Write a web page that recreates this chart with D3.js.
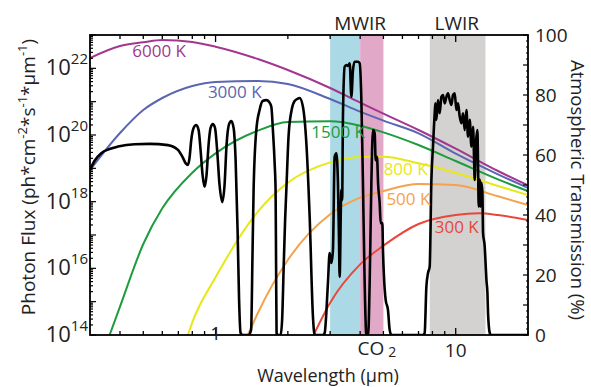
<!DOCTYPE html>
<html>
<head>
<meta charset="utf-8">
<script src="https://cdn.jsdelivr.net/npm/d3@7"></script>
<style>
  body { margin: 0; background: #fff; }
  svg { display: block; }
  text { font-family: "Open Sans", sans-serif; fill: #222; }
</style>
</head>
<body>
<svg id="chart" width="591" height="387"></svg>
<script>
// ---- data ----
// blackbody curves: wavelength (um) and log10 of photon flux
var wave6000 = [0.3, 0.4, 0.5, 0.6, 0.8, 1, 1.5, 2, 3, 4, 5, 7, 10, 15, 20];
var flux6000 = [22.31, 22.67, 22.78, 22.85, 22.79, 22.65, 22.28, 21.95, 21.41, 20.97, 20.64, 20.15, 19.59, 18.92, 18.49];
var wave3000 = [0.3, 0.4, 0.5, 0.6, 0.8, 1, 1.5, 2, 3, 4, 5, 7, 10, 15, 20];
var flux3000 = [18.95, 20.06, 20.75, 21.11, 21.47, 21.59, 21.62, 21.53, 21.08, 20.7, 20.43, 20.05, 19.44, 18.82, 18.41];
var wave1500 = [0.362, 0.4, 0.5, 0.6, 0.8, 1, 1.5, 2, 3, 4, 5, 7, 10, 15, 20];
var flux1500 = [14.0, 14.85, 16.73, 17.8, 18.87, 19.45, 20.13, 20.39, 20.41, 20.28, 20.08, 19.7, 19.22, 18.67, 18.32];
var wave800 = [0.767, 0.8, 1, 1.5, 2, 3, 4, 5, 7, 10, 15, 20];
var flux800 = [14.0, 14.38, 15.73, 17.7, 18.57, 19.18, 19.34, 19.35, 19.15, 18.87, 18.47, 18.2];
var wave500 = [1.364, 1.5, 2, 3, 4, 5, 7, 10, 15, 20];
var flux500 = [14.0, 14.66, 16.25, 17.62, 18.12, 18.32, 18.53, 18.5, 18.16, 17.9];
var wave300 = [2.56, 3, 4, 5, 7, 10, 12.5, 15, 20];
var flux300 = [14.0, 14.97, 16.12, 16.68, 17.33, 17.6, 17.65, 17.6, 17.45];

var tempNames = ['6000 K', '3000 K', '1500 K', '800 K', '500 K', '300 K'];
var labelWave = [0.45, 0.929, 2.504, 5.01, 5.145, 8.175];
var labelFlux = [22.33, 21.11, 19.91, 18.8, 17.9, 17.06];

// atmospheric transmission (%)
var transWave = [0.300, 0.313, 0.334, 0.362, 0.392, 0.460, 0.531, 0.633, 0.697, 0.729, 0.750, 0.767, 0.779, 0.792,
  0.810, 0.831, 0.850, 0.866, 0.883, 0.900, 0.917, 0.935, 0.953, 0.974, 0.995, 1.015, 1.039, 1.066, 1.090,
  1.111, 1.138, 1.163, 1.189, 1.212, 1.235, 1.253, 1.271, 1.296, 1.373, 1.406, 1.426, 1.440, 1.478, 1.525,
  1.570, 1.627, 1.671, 1.707, 1.733, 1.762, 1.778, 1.787, 1.795, 1.813, 1.866, 1.893, 1.920, 1.948, 1.971,
  2.015, 2.074, 2.134, 2.203, 2.239, 2.311, 2.388, 2.465, 2.544, 2.586, 2.800, 2.846, 2.937, 2.985, 3.035,
  3.082, 3.132, 3.184, 3.233, 3.264, 3.286, 3.340, 3.366, 3.392, 3.448, 3.505, 3.559, 3.618, 3.677, 3.734,
  3.795, 3.917, 3.981, 4.047, 4.109, 4.177, 4.246, 4.320, 4.382, 4.454, 4.523, 4.598, 4.642, 4.700, 4.754,
  4.823, 4.870, 4.950, 4.979, 5.027, 5.109, 5.224, 5.309, 5.396, 7.300, 7.426, 7.548, 7.665, 7.792, 7.920,
  8.043, 8.175, 8.230, 8.310, 8.438, 8.577, 8.718, 8.853, 8.999, 9.147, 9.289, 9.441, 9.596, 9.744, 9.905,
  10.068, 10.223, 10.391, 10.562, 10.726, 10.902, 11.081, 11.252, 11.438, 11.626, 11.806, 11.920, 12.000,
  12.115, 12.315, 12.386, 12.469, 12.589, 12.711, 12.796, 12.920, 12.995, 13.208, 13.297, 13.425, 13.555,
  13.633, 13.857, 14.0, 20.0];
var transPct = [55.0, 58.0, 60.6, 62.0, 62.8, 63.6, 63.7, 63.3, 61.7, 59.3, 57.3, 56.7, 59.0, 65.0,
  69.0, 70.0, 68.3, 61.7, 53.3, 49.4, 53.3, 63.3, 69.0, 70.3, 69.0, 61.7, 50.0, 44.3, 50.0,
  63.3, 70.3, 71.3, 69.0, 58.3, 35.0, 11.7, 0.7, 0, 0, 1.7, 28.3, 48.3, 68.3, 75.0,
  78.0, 78.3, 77.7, 76.1, 68.3, 57.2, 48.3, 21.7, 0.7, 0, 0, 5.0, 21.7, 38.3, 48.3,
  66.7, 75.0, 78.0, 78.8, 79.0, 76.1, 64.0, 39.4, 6.1, 0, 0, 0.7, 17.3, 27.3, 24.0,
  28.3, 59.4, 60.6, 50.7, 32.8, 19.4, 48.3, 45.0, 72.8, 89.4, 90.0, 89.7, 90.6, 79.4, 88.3,
  91.1, 91.1, 90.6, 78.3, 50.7, 17.3, 0, 0, 17.3, 50.7, 68.3, 67.3, 58.3, 59.4, 50.0,
  44.0, 37.3, 37.3, 28.3, 19.4, 11.7, 8.3, 1.7, 0, 0, 0.7, 16.1, 20.6, 22.8, 51.7,
  62.8, 73.9, 77.2, 71.7, 78.3, 73.9, 79.4, 80.0, 77.2, 79.4, 80.6, 78.3, 76.7, 80.0, 80.6,
  75.0, 77.2, 72.8, 70.6, 73.9, 68.3, 75.0, 66.1, 71.7, 62.8, 69.4, 59.4, 51.7,
  62.8, 68.3, 57.2, 42.8, 51.7, 42.8, 50.7, 47.3, 34.0, 29.4, 25.0, 18.3, 14.0,
  7.3, 0.7, 0, 0];

// spectral bands (um)
var bandNames = ['MWIR', 'CO2', 'LWIR'];
var bandStart = [3.0, 4.0, 7.8];
var bandEnd = [4.0, 5.0, 13.3];

var fluxTickExp = [14, 16, 18, 20, 22];
var transTicks = [0, 20, 40, 60, 80, 100];

// ---- layout ----
var plotLeft = 90, plotRight = 528, plotTop = 35, plotBottom = 335;
var tempColors = ['#a2378f', '#5a66b2', '#1c9c3d', '#e8e817', '#f5a24a', '#e8473a'];
var bandColors = ['#acd9e6', '#e2a8c8', '#d3d2d1'];

var svg = d3.select('#chart');

var x = d3.scaleLog().domain([0.3, 20]).range([plotLeft, plotRight]);
var yFlux = d3.scaleLog().domain([1e14, 1e23]).range([plotBottom, plotTop]);
var yTrans = d3.scaleLinear().domain([0, 100]).range([plotBottom, plotTop]);

svg.append('clipPath').attr('id', 'plotClip')
  .append('rect')
  .attr('x', plotLeft).attr('y', plotTop)
  .attr('width', plotRight - plotLeft).attr('height', plotBottom - plotTop);

var plot = svg.append('g').attr('clip-path', 'url(#plotClip)');

// Bands
plot.selectAll('rect.band')
  .data(bandStart)
  .enter().append('rect')
  .attr('class', 'band')
  .attr('x', function (d) { return x(d); })
  .attr('y', plotTop)
  .attr('width', function (d, i) { return x(bandEnd[i]) - x(d); })
  .attr('height', plotBottom - plotTop)
  .attr('fill', function (d, i) { return bandColors[i]; });

// Blackbody curves
var curves = [
  [wave6000, flux6000], [wave3000, flux3000], [wave1500, flux1500],
  [wave800, flux800], [wave500, flux500], [wave300, flux300]
];
var fluxLine = d3.line()
  .x(function (d) { return x(d[0]); })
  .y(function (d) { return yFlux(Math.pow(10, d[1])); })
  .curve(d3.curveMonotoneX);

curves.forEach(function (c, i) {
  var pts = c[0].map(function (w, j) { return [w, c[1][j]]; });
  plot.append('path')
    .datum(pts)
    .attr('d', fluxLine)
    .attr('fill', 'none')
    .attr('stroke', tempColors[i])
    .attr('stroke-width', 2);
});

// Transmission curve
var transLine = d3.line()
  .x(function (d) { return x(d[0]); })
  .y(function (d) { return yTrans(d[1]); })
  .curve(d3.curveMonotoneX);
plot.append('path')
  .datum(transWave.map(function (w, j) { return [w, transPct[j]]; }))
  .attr('d', transLine)
  .attr('fill', 'none')
  .attr('stroke', '#000')
  .attr('stroke-width', 2.6)
  .attr('stroke-linejoin', 'round');

// Curve labels
svg.selectAll('text.temp')
  .data(tempNames)
  .enter().append('text')
  .attr('class', 'temp')
  .attr('x', function (d, i) { return x(labelWave[i]); })
  .attr('y', function (d, i) { return yFlux(Math.pow(10, labelFlux[i])); })
  .style('font-size', '17px')
  .style('fill', function (d, i) { return tempColors[i]; })
  .text(function (d) { return d; });

// ---- axes / frame ----
var axes = svg.append('g').attr('stroke', '#000');

// x ticks (bottom and top, pointing inward)
var xMinor = [0.4, 0.5, 0.6, 0.7, 0.8, 0.9, 2, 3, 4, 5, 6, 7, 8, 9, 20];
var xMajor = [1, 10];
axes.selectAll('g.xt')
  .data(xMinor.concat(xMajor))
  .enter().append('g')
  .attr('class', 'xt')
  .each(function (d) {
    var len = xMajor.indexOf(d) >= 0 ? 7 : 4;
    var g = d3.select(this);
    g.append('line').attr('x1', x(d)).attr('x2', x(d)).attr('y1', plotBottom).attr('y2', plotBottom - len).attr('stroke-width', 1.3);
    g.append('line').attr('x1', x(d)).attr('x2', x(d)).attr('y1', plotTop).attr('y2', plotTop + len).attr('stroke-width', 1.3);
  });

// left log ticks
var yTickVals = [];
d3.range(14, 23).forEach(function (e) {
  d3.range(1, 10).forEach(function (m) { yTickVals.push([m * Math.pow(10, e), m === 1]); });
});
yTickVals.push([1e23, true]);
axes.selectAll('line.yl')
  .data(yTickVals)
  .enter().append('line')
  .attr('class', 'yl')
  .attr('x1', plotLeft)
  .attr('x2', function (d) { return plotLeft + (d[1] ? 6 : 3); })
  .attr('y1', function (d) { return yFlux(d[0]); })
  .attr('y2', function (d) { return yFlux(d[0]); })
  .attr('stroke-width', 1.2);

// right linear ticks
axes.selectAll('line.yr')
  .data(d3.range(0, 101, 2))
  .enter().append('line')
  .attr('class', 'yr')
  .attr('x1', plotRight)
  .attr('x2', function (d) { return plotRight - (d % 10 === 0 ? 5 : 2); })
  .attr('y1', function (d) { return yTrans(d); })
  .attr('y2', function (d) { return yTrans(d); })
  .attr('stroke-width', 1.2);

// frame
axes.append('rect')
  .attr('x', plotLeft).attr('y', plotTop)
  .attr('width', plotRight - plotLeft).attr('height', plotBottom - plotTop)
  .attr('fill', 'none')
  .attr('stroke-width', 1.8);

// left tick labels
var fluxLabels = svg.selectAll('text.fl')
  .data(fluxTickExp)
  .enter().append('text')
  .attr('class', 'fl')
  .attr('x', plotLeft - 2)
  .attr('y', function (d) { return yFlux(Math.pow(10, d)) + 7; })
  .attr('text-anchor', 'end')
  .style('font-size', '22px');
fluxLabels.append('tspan').text('10');
fluxLabels.append('tspan').attr('dy', -11).style('font-size', '15px').text(function (d) { return d; });

// right tick labels
svg.selectAll('text.tr')
  .data(transTicks)
  .enter().append('text')
  .attr('class', 'tr')
  .attr('x', plotRight + 7)
  .attr('y', function (d) { return yTrans(d) + 7; })
  .style('font-size', '19px')
  .text(function (d) { return d; });

// bottom labels
svg.append('text').attr('x', x(1)).attr('y', 340).attr('text-anchor', 'middle').style('font-size', '19px').text('1');
svg.append('text').attr('x', x(10)).attr('y', 357).attr('text-anchor', 'middle').style('font-size', '19px').text('10');
var co2 = svg.append('text').attr('x', x(3.9)).attr('y', 355).style('font-size', '19px');
co2.append('tspan').text('CO');
co2.append('tspan').attr('dx', 4).attr('dy', 2).style('font-size', '14px').text('2');

// band labels on top
svg.append('text').attr('x', x(bandEnd[0])).attr('y', 30).attr('text-anchor', 'middle').style('font-size', '19px').text(bandNames[0]);
svg.append('text').attr('x', x(10.1)).attr('y', 30).attr('text-anchor', 'middle').style('font-size', '19px').text(bandNames[2]);

// axis titles
svg.append('text')
  .attr('x', (plotLeft + plotRight) / 2 + 19).attr('y', 382)
  .attr('text-anchor', 'middle')
  .style('font-size', '18px')
  .text('Wavelength (\u00b5m)');

var yt = svg.append('text')
  .attr('transform', 'translate(35,177) rotate(-90)')
  .attr('text-anchor', 'middle')
  .style('font-size', '19px');
yt.append('tspan').text('Photon Flux (ph*cm');
yt.append('tspan').attr('dy', -8).style('font-size', '13px').text('-2');
yt.append('tspan').attr('dy', 8).text('*s');
yt.append('tspan').attr('dy', -8).style('font-size', '13px').text('-1');
yt.append('tspan').attr('dy', 8).text('*\u00b5m');
yt.append('tspan').attr('dy', -8).style('font-size', '13px').text('-1');
yt.append('tspan').attr('dy', 8).text(')');

svg.append('text')
  .attr('transform', 'translate(571,190) rotate(90)')
  .attr('text-anchor', 'middle')
  .style('font-size', '18.5px')
  .text('Atmospheric Transmission (%)');
</script>
</body>
</html>
